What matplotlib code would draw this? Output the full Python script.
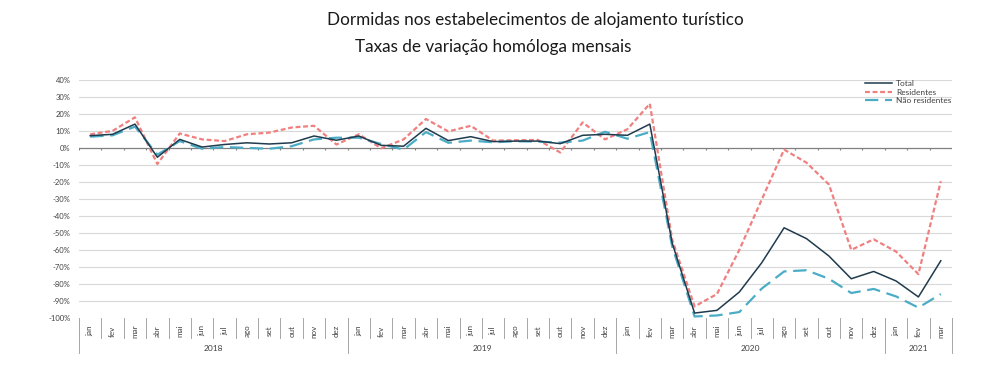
import numpy as np
import matplotlib.pyplot as plt
import matplotlib.transforms as mtransforms

plt.rcParams['font.family'] = ['Lato', 'DejaVu Sans']

months = ['jan', 'fev', 'mar', 'abr', 'mai', 'jun', 'jul', 'ago', 'set', 'out', 'nov', 'dez']
years = ['2018', '2019', '2020', '2021']
year_lengths = [12, 12, 12, 3]
month_labels = months * 3 + months[:3]

total = [7.2, 8, 14, -5.5, 5, 0.5, 2, 3, 2.3, 3, 7, 4.5,
         7, 1.5, 1, 11.5, 4.3, 6.6, 3.7, 4, 4, 2.5, 7.4, 8,
         7.4, 14, -56, -97.2, -95.6, -84.8, -67.6, -47, -53.4, -63.6, -77, -72.7,
         -78.3, -87.7, -66.4]
residentes = [8, 10, 18, -9.5, 8.5, 5, 4, 8, 9, 12, 13, 2,
              8, -0.2, 5, 17, 9.7, 13, 4.3, 4.5, 4.7, -2.7, 15, 5,
              11, 26, -54, -93.3, -86, -60, -30.4, -1, -8.7, -21.5, -60, -53.8,
              -61, -74.3, -19.6]
nao_residentes = [6.6, 7.4, 12.5, -4, 4, -0.5, 0.5, 0, -0.5, 1, 5, 6,
                  6, 2.3, -1, 9.3, 3, 4.3, 3.3, 3.9, 3.7, 3.1, 4.3, 9.5,
                  5.4, 9.3, -58, -99.2, -98.6, -96.6, -82.8, -72.7, -72, -77, -85.4, -83,
                  -87.4, -94, -86]

x = np.arange(len(month_labels))

fig = plt.figure(figsize=(10, 3.7), dpi=100)
ax = fig.add_axes([0.079, 0.141, 0.873, 0.643])

for v in range(-90, 50, 10):
    if v != 0:
        ax.axhline(v, color='#d9d9d9', lw=0.8, zorder=0)

ax.plot(x, total, color='#1f3b4d', lw=1.1, label='Total', zorder=3)
ax.plot(x, residentes, color='#f08080', lw=1.6, ls=(0, (2.2, 1.2)), label='Residentes', zorder=2)
ax.plot(x, nao_residentes, color='#4bacc6', lw=1.6, ls=(0, (6, 3)), label='Não residentes', zorder=2)

# zero axis with ticks between months
ax.axhline(0, color='#808080', lw=0.9, zorder=1)
bounds = np.arange(len(month_labels) + 1) - 0.5
ax.vlines(bounds, -1.5, 0, color='#808080', lw=0.8, zorder=1)

ax.set_xlim(-0.5, len(month_labels) - 0.5)
ax.set_ylim(-100, 40)
ax.set_yticks(range(-100, 50, 10))
ax.set_yticklabels([f'{v}%' for v in range(-100, 50, 10)], fontsize=5.5, color='#404040')
ax.tick_params(axis='y', length=0, pad=6)
ax.set_xticks([])
for s in ax.spines.values():
    s.set_visible(False)

# category axis below the plot
trans = mtransforms.blended_transform_factory(ax.transData, ax.transAxes)
for i, lab in enumerate(month_labels):
    ax.text(i, -0.055, lab, transform=trans, rotation=90, ha='center', va='center',
            fontsize=5.8, color='#404040')
for b in bounds:
    ax.plot([b, b], [0, -0.085], transform=trans, color='#a6a6a6', lw=0.7, clip_on=False)
start = -0.5
edges = [start]
for yr, n in zip(years, year_lengths):
    ax.text(start + n / 2, -0.13, yr, transform=trans, ha='center', va='center',
            fontsize=6, color='#404040')
    start += n
    edges.append(start)
for e in edges:
    ax.plot([e, e], [0, -0.148], transform=trans, color='#a6a6a6', lw=0.7, clip_on=False)

leg = ax.legend(loc='upper right', bbox_to_anchor=(1.008, 1.03), frameon=False, fontsize=6,
                handlelength=3.2, labelspacing=0.15, handletextpad=0.5)
for t in leg.get_texts():
    t.set_color('#404040')

fig.text(0.535, 0.945, 'Dormidas nos estabelecimentos de alojamento turístico',
         ha='center', va='center', fontsize=12.3, color='#1a1a1a')
fig.text(0.493, 0.872, 'Taxas de variação homóloga mensais',
         ha='center', va='center', fontsize=12.3, color='#1a1a1a')

fig.savefig('out.png', dpi=100)
